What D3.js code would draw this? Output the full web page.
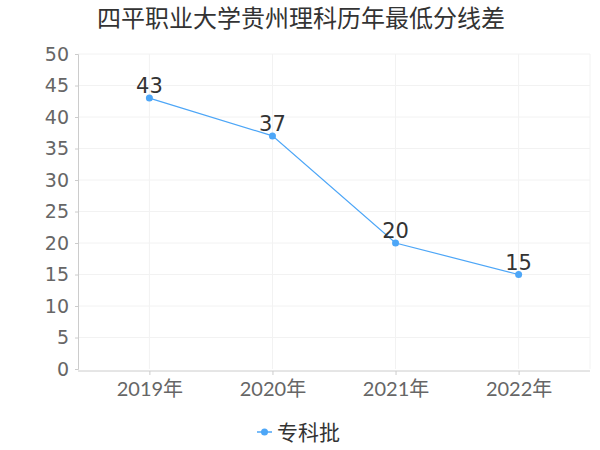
<!DOCTYPE html>
<html><head><meta charset="utf-8">
<script src="https://cdn.jsdelivr.net/npm/d3@7"></script>
<style>body{margin:0;background:#fff}svg{display:block}text{font-family:"Noto Sans CJK SC","Noto Sans",sans-serif}</style>
</head><body>
<svg id="c" width="600" height="450"></svg>
<script>
const title = "四平职业大学贵州理科历年最低分线差";
const categories = ["2019年","2020年","2021年","2022年"];
const seriesName = "专科批";
const values = [43, 37, 20, 15];
const yTicks = [0,5,10,15,20,25,30,35,40,45,50];

const svg = d3.select("#c");
const pLeft = 78, pRight = 590, pTop = 54, pBottom = 369;
const x = d3.scalePoint().domain(categories).range([pLeft, pRight]).padding(0.58);
const y = d3.scaleLinear().domain([0, 50]).range([pBottom, pTop]);
const color = "#4da6f7";

// grid
svg.append("g").selectAll("line").data(yTicks.slice(1)).join("line")
  .attr("x1", pLeft).attr("x2", pRight).attr("y1", d => y(d)).attr("y2", d => y(d))
  .attr("stroke", "#f2f2f2");
svg.append("g").selectAll("line").data(categories).join("line")
  .attr("x1", d => x(d)).attr("x2", d => x(d)).attr("y1", pTop).attr("y2", pBottom)
  .attr("stroke", "#f2f2f2");
svg.append("line").attr("x1", pRight).attr("x2", pRight).attr("y1", pTop).attr("y2", pBottom).attr("stroke", "#f2f2f2");

// y axis
const ya = svg.append("g").attr("transform", `translate(${pLeft},0)`)
  .call(d3.axisLeft(y).tickValues(yTicks).tickSize(3).tickPadding(6));
ya.select(".domain").attr("stroke", "#ccc");
ya.selectAll(".tick line").attr("stroke", "#ccc");
ya.selectAll("text").attr("fill", "#666").style("font-size", "19px").style("font-family", "'DejaVu Sans',sans-serif");

// x axis
const xa = svg.append("g").attr("transform", `translate(0,${pBottom + 2})`)
  .call(d3.axisBottom(x).tickSize(4).tickPadding(6).tickSizeOuter(0));
xa.select(".domain").attr("stroke", "#ccc").attr("d", `M${pLeft},0H${pRight}`);
xa.selectAll(".tick line").attr("stroke", "#ccc");
xa.selectAll("text").attr("fill", "#666").style("font-size", "20px")
  .style("font-family", "Lato,'Noto Sans CJK SC',sans-serif").attr("dy", "0.75em");

// line
svg.append("path").datum(values)
  .attr("d", d3.line().x((d, i) => x(categories[i])).y(d => y(d)))
  .attr("fill", "none").attr("stroke", color).attr("stroke-width", 1.2);
svg.append("g").selectAll("circle").data(values).join("circle")
  .attr("cx", (d, i) => x(categories[i])).attr("cy", d => y(d)).attr("r", 3.5).attr("fill", color);
svg.append("g").selectAll("text").data(values).join("text")
  .attr("x", (d, i) => x(categories[i])).attr("y", d => y(d) - 5)
  .attr("text-anchor", "middle").attr("fill", "#333").style("font-size", "21px")
  .style("font-family", "'DejaVu Sans',sans-serif").text(d => d);

// title
svg.append("text").attr("x", 301).attr("y", 27).attr("text-anchor", "middle")
  .attr("fill", "#333").style("font-size", "24px").text(title);

// legend
svg.append("line").attr("x1", 257).attr("x2", 272).attr("y1", 432).attr("y2", 432).attr("stroke", color).attr("stroke-width", 1.5);
svg.append("circle").attr("cx", 264.5).attr("cy", 432).attr("r", 3.5).attr("fill", color);
svg.append("text").attr("x", 277).attr("y", 439.5).attr("fill", "#333").style("font-size", "21px").text(seriesName);
</script>
</body></html>
